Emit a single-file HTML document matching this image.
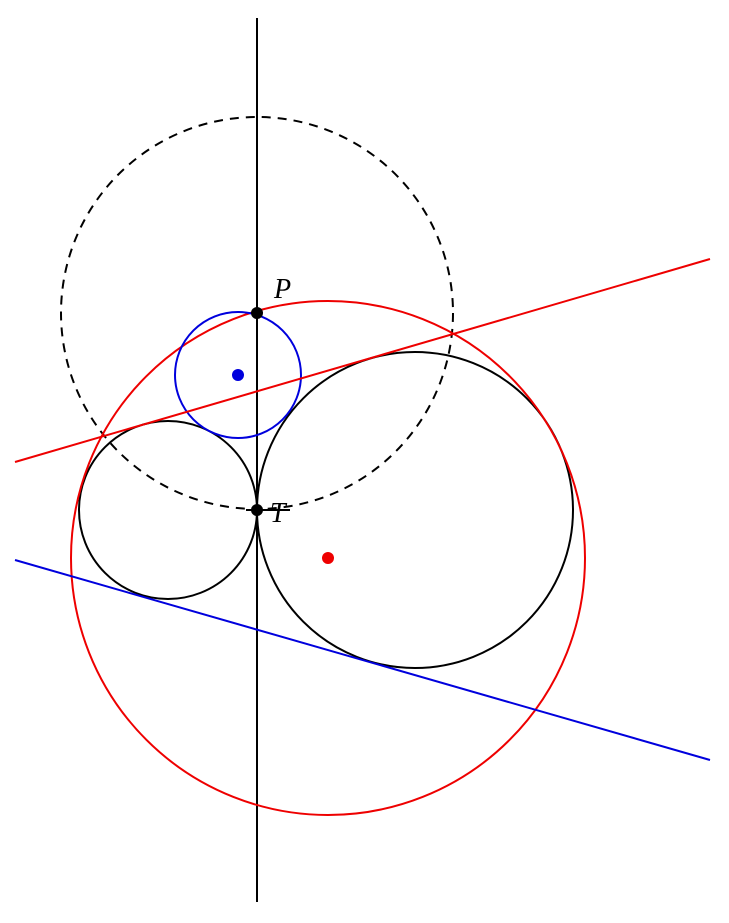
<!DOCTYPE html>
<html><head><style>html,body{margin:0;padding:0;background:#fff}</style></head>
<body>
<svg width="729" height="918" viewBox="0 0 729 918" xmlns="http://www.w3.org/2000/svg">
<rect width="729" height="918" fill="#fff"/>
<line x1="257" y1="18" x2="257" y2="902" stroke="#000" stroke-width="2"/>
<circle cx="257" cy="313" r="196" fill="none" stroke="#000" stroke-width="2" stroke-dasharray="9,7"/>
<circle cx="168" cy="510" r="89" fill="none" stroke="#000" stroke-width="2"/>
<circle cx="415" cy="510" r="158" fill="none" stroke="#000" stroke-width="2"/>
<circle cx="328" cy="558" r="257" fill="none" stroke="#e00" stroke-width="2"/>
<circle cx="238" cy="375" r="63" fill="none" stroke="#00d" stroke-width="2"/>
<line x1="15" y1="462" x2="710" y2="259" stroke="#e00" stroke-width="2"/>
<line x1="15" y1="560" x2="710" y2="760" stroke="#00d" stroke-width="2"/>
<line x1="246" y1="510" x2="290" y2="510" stroke="#000" stroke-width="2"/>
<circle cx="257" cy="313" r="6" fill="#000"/>
<circle cx="257" cy="510" r="6" fill="#000"/>
<circle cx="238" cy="375" r="6" fill="#00d"/>
<circle cx="328" cy="558" r="6" fill="#e00"/>
<text x="274" y="298" font-family="Liberation Serif, serif" font-style="italic" font-size="28">P</text>
<text x="270" y="522" font-family="Liberation Serif, serif" font-style="italic" font-size="28">T</text>
</svg>
</body></html>
